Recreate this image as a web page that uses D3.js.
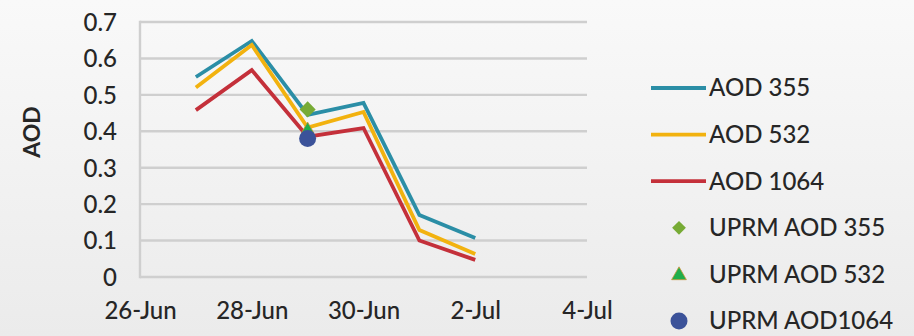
<!DOCTYPE html>
<html>
<head>
<meta charset="utf-8">
<script src="https://cdn.jsdelivr.net/npm/d3@7"></script>
<style>
html,body{margin:0;padding:0;}
body{width:914px;height:336px;overflow:hidden;}
svg{display:block;}
text{font-family:Lato,"Open Sans",sans-serif;fill:#262626;}
</style>
</head>
<body>
<svg id="chart" width="914" height="336"></svg>
<script>
const dates = ["2012-06-27","2012-06-28","2012-06-29","2012-06-30","2012-07-01","2012-07-02"];
const aod355 = [0.549, 0.648, 0.445, 0.478, 0.170, 0.107];
const aod532 = [0.520, 0.637, 0.410, 0.453, 0.129, 0.063];
const aod1064 = [0.458, 0.568, 0.385, 0.409, 0.100, 0.047];
const uprmDate = "2012-06-29";
const uprm355 = 0.46;
const uprm532 = 0.405;
const uprm1064 = 0.38;
const yTicks = [0, 0.1, 0.2, 0.3, 0.4, 0.5, 0.6, 0.7];
const xTickDates = ["2012-06-26","2012-06-28","2012-06-30","2012-07-02","2012-07-04"];
const xTickLabels = ["26-Jun","28-Jun","30-Jun","2-Jul","4-Jul"];
const legendLabels = ["AOD 355","AOD 532","AOD 1064","UPRM AOD 355","UPRM AOD 532","UPRM AOD1064"];

const parse = d3.utcParse("%Y-%m-%d");
const svg = d3.select("#chart");
const FS = "24px";

const defs = svg.append("defs");
const grad = defs.append("linearGradient").attr("id","bg").attr("x1",0).attr("y1",0).attr("x2",0).attr("y2",1);
grad.append("stop").attr("offset","0%").attr("stop-color","#f9f9f9");
grad.append("stop").attr("offset","100%").attr("stop-color","#ebebeb");
svg.append("rect").attr("width",914).attr("height",336).attr("fill","url(#bg)");

const x = d3.scaleUtc().domain([parse("2012-06-26"), parse("2012-07-04")]).range([140, 587]);
const y = d3.scaleLinear().domain([0, 0.7]).range([277, 22]);

// grid
svg.append("g").selectAll("line").data(yTicks).join("line")
  .attr("x1",140).attr("x2",587)
  .attr("y1",d=>y(d)).attr("y2",d=>y(d))
  .attr("stroke","#cfcfcf").attr("stroke-width",2.4);
svg.append("line").attr("x1",140).attr("x2",140).attr("y1",y(0.7)-1.2).attr("y2",y(0)+1.2)
  .attr("stroke","#cfcfcf").attr("stroke-width",2.4);

// y axis
const yAxis = d3.axisLeft(y).tickValues(yTicks).tickSize(0).tickPadding(0)
  .tickFormat(d => d === 0 ? "0" : d3.format(".1f")(d));
const gy = svg.append("g").attr("transform","translate(117,0)").call(yAxis);
gy.select(".domain").remove();
gy.selectAll("text").style("font-size",FS).style("font-family","Lato,sans-serif").style("font-weight","500").attr("fill","#262626").attr("dy","0.35em");

// x axis
const xAxis = d3.axisBottom(x).tickValues(xTickDates.map(parse)).tickSize(0).tickPadding(0)
  .tickFormat((d,i) => xTickLabels[i]);
const gx = svg.append("g").attr("transform","translate(0,311)").call(xAxis);
gx.select(".domain").remove();
gx.selectAll("text").style("font-size",FS).style("font-family","Lato,sans-serif").style("font-weight","500").attr("fill","#262626").attr("dy","0.35em");

// y title
svg.append("text").attr("transform","translate(32,132) rotate(-90)")
  .attr("text-anchor","middle").attr("dy","0.35em")
  .style("font-size","23px").style("font-weight","bold").text("AOD");

const series = [
  {vals: aod355, color:"#2b8ea6"},
  {vals: aod532, color:"#f2b20f"},
  {vals: aod1064, color:"#c4303a"}
];
const line = d3.line().x(d=>x(d[0])).y(d=>y(d[1]));
series.forEach(s => {
  svg.append("path").datum(dates.map((d,i)=>[parse(d), s.vals[i]]))
    .attr("d", line).attr("fill","none").attr("stroke", s.color)
    .attr("stroke-width",3.8).attr("stroke-linejoin","miter");
});

const ux = x(parse(uprmDate));
const sym = d3.symbol();
svg.append("path").attr("transform",`translate(${ux},${y(uprm532)})`)
  .attr("d", sym.type(d3.symbolTriangle).size(70)()).attr("fill","#1fae4a").attr("stroke","#c9963a").attr("stroke-width",0.8);
svg.append("path").attr("transform",`translate(${ux},${y(uprm355)}) rotate(45)`)
  .attr("d", sym.type(d3.symbolSquare).size(130)()).attr("fill","#77ab35");
svg.append("circle").attr("cx",ux).attr("cy",y(uprm1064)).attr("r",8.5).attr("fill","#3b5299");

// legend
const legY = d3.scalePoint().domain(legendLabels).range([88, 321]);
legendLabels.forEach((lab,i) => {
  const yy = legY(lab);
  if (i < 3) {
    svg.append("line").attr("x1",651).attr("x2",706).attr("y1",yy).attr("y2",yy)
      .attr("stroke", series[i].color).attr("stroke-width",3.8);
  } else if (i === 3) {
    svg.append("path").attr("transform",`translate(679,${yy}) rotate(45)`)
      .attr("d", sym.type(d3.symbolSquare).size(95)()).attr("fill","#77ab35");
  } else if (i === 4) {
    svg.append("path").attr("transform",`translate(679,${yy+1})`)
      .attr("d", sym.type(d3.symbolTriangle).size(95)()).attr("fill","#1fae4a").attr("stroke","#c9963a").attr("stroke-width",0.8);
  } else {
    svg.append("circle").attr("cx",679).attr("cy",yy).attr("r",8.5).attr("fill","#3b5299");
  }
  svg.append("text").attr("x",709).attr("y",yy).attr("dy","0.35em")
    .style("font-size",FS).style("font-weight","500").text(lab);
});
</script>
</body>
</html>
